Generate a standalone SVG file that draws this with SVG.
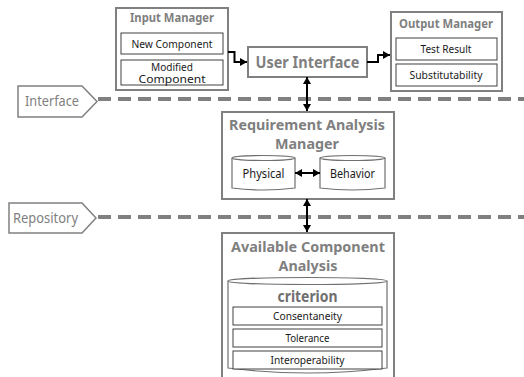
<svg xmlns="http://www.w3.org/2000/svg" width="524" height="377" viewBox="0 0 524 377">
<style>
.outer{fill:#fff;stroke:#808080;stroke-width:2}
.inner{fill:#fff;stroke:#404040;stroke-width:1}
.cyl{fill:#fff;stroke:#707070;stroke-width:1.2}
.title{font-family:"Noto Sans","Open Sans",sans-serif;font-weight:bold;fill:#7f7f7f;text-anchor:middle}
.lbl{font-family:"Noto Sans","Open Sans",sans-serif;fill:#1a1a1a;text-anchor:middle;font-size:11px}
.tag{font-family:"Noto Sans","Open Sans",sans-serif;fill:#7f7f7f;font-size:14px}
.dash{stroke:#808080;stroke-width:4;stroke-dasharray:13 7;fill:none}
.conn{stroke:#000;stroke-width:2;fill:none}
</style>
<defs>
<marker id="ah" markerWidth="9" markerHeight="9" refX="7" refY="4" orient="auto-start-reverse" markerUnits="userSpaceOnUse">
<path d="M0,0 L7,4 L0,8 Z" fill="#000"/>
</marker>
</defs>

<g id="interface-tag">
<path d="M18,86 H82 L97,101.5 L82,117 H18 Z" fill="#fff" stroke="#808080" stroke-width="1.5"/>
<text class="tag" x="25" y="106" textLength="54" lengthAdjust="spacingAndGlyphs">Interface</text>
</g>
<g id="repository-tag">
<path d="M9,203 H82 L96,218 L82,233 H9 Z" fill="#fff" stroke="#808080" stroke-width="1.5"/>
<text class="tag" x="13" y="223" textLength="65" lengthAdjust="spacingAndGlyphs">Repository</text>
</g>
<g id="dashes">
<line class="dash" x1="98" y1="99" x2="524" y2="99"/>
<line class="dash" x1="98" y1="217" x2="524" y2="217"/>
</g>

<g id="input-manager">
<rect class="outer" x="116" y="8" width="112" height="82"/>
<text class="title" x="172" y="22" font-size="12" textLength="84" lengthAdjust="spacingAndGlyphs">Input Manager</text>
<rect class="inner" x="121" y="33" width="102" height="21"/>
<text class="lbl" x="172" y="48" textLength="81" lengthAdjust="spacingAndGlyphs">New Component</text>
<rect class="inner" x="121" y="60" width="102" height="25"/>
<text class="lbl" x="172" y="70.5" style="font-size:10px" textLength="42" lengthAdjust="spacingAndGlyphs">Modified</text>
<text class="lbl" x="172" y="83" style="font-size:10px" textLength="67" lengthAdjust="spacingAndGlyphs">Component</text>
</g>

<g id="user-interface">
<rect class="outer" x="248" y="47" width="119" height="30"/>
<text class="title" x="307.5" y="68" font-size="16" textLength="104" lengthAdjust="spacingAndGlyphs">User Interface</text>
</g>

<g id="output-manager">
<rect class="outer" x="391" y="12" width="111" height="79"/>
<text class="title" x="446" y="28" font-size="12" textLength="94" lengthAdjust="spacingAndGlyphs">Output Manager</text>
<rect class="inner" x="396" y="38" width="101" height="22"/>
<text class="lbl" x="446" y="53" textLength="51" lengthAdjust="spacingAndGlyphs">Test Result</text>
<rect class="inner" x="396" y="64" width="101" height="22"/>
<text class="lbl" x="446" y="79" textLength="73" lengthAdjust="spacingAndGlyphs">Substitutability</text>
</g>

<g id="requirement-analysis-manager">
<rect class="outer" x="222" y="112" width="172" height="87"/>
<text class="title" x="307" y="130" font-size="14" textLength="156" lengthAdjust="spacingAndGlyphs">Requirement Analysis</text>
<text class="title" x="307" y="149" font-size="14" textLength="64" lengthAdjust="spacingAndGlyphs">Manager</text>
</g>
<g id="physical">
<path class="cyl" d="M232,158 V188 Q263.5,192 295,188 V158"/>
<ellipse class="cyl" cx="263.5" cy="158" rx="31.5" ry="2.5"/>
<text class="lbl" x="263.5" y="178" style="font-size:12px" textLength="42" lengthAdjust="spacingAndGlyphs">Physical</text>
</g>
<g id="behavior">
<path class="cyl" d="M320,158 V188 Q352.5,192 385,188 V158"/>
<ellipse class="cyl" cx="352.5" cy="158" rx="32.5" ry="2.5"/>
<text class="lbl" x="352.5" y="178" style="font-size:12px" textLength="45" lengthAdjust="spacingAndGlyphs">Behavior</text>
</g>

<g id="available-component-analysis">
<rect class="outer" x="222" y="233" width="172" height="150"/>
<text class="title" x="308" y="252" font-size="14" textLength="154" lengthAdjust="spacingAndGlyphs">Available Component</text>
<text class="title" x="308" y="271" font-size="14" textLength="59" lengthAdjust="spacingAndGlyphs">Analysis</text>
</g>
<g id="criterion">
<path class="cyl" d="M228,281 V368 Q307.5,378 387,368 V281" stroke-width="1.5"/>
<ellipse class="cyl" cx="307.5" cy="281" rx="79.5" ry="3.5" stroke-width="1.5"/>
<text class="title" x="307.5" y="302" font-size="16" style="fill:#6f6f6f" textLength="60" lengthAdjust="spacingAndGlyphs">criterion</text>
<rect class="inner" x="233" y="307" width="149" height="18"/>
<text class="lbl" x="307.5" y="320" textLength="69" lengthAdjust="spacingAndGlyphs">Consentaneity</text>
<rect class="inner" x="233" y="329" width="149" height="18"/>
<text class="lbl" x="307.5" y="342" textLength="44" lengthAdjust="spacingAndGlyphs">Tolerance</text>
<rect class="inner" x="233" y="351" width="149" height="18"/>
<text class="lbl" x="307.5" y="364" textLength="74" lengthAdjust="spacingAndGlyphs">Interoperability</text>
</g>

<g id="connectors">
<path class="conn" d="M228,52 H234.5 V62 H247" marker-end="url(#ah)"/>
<path class="conn" d="M367,62 H378 V55 H390" marker-end="url(#ah)"/>
<line class="conn" x1="307" y1="77" x2="307" y2="111" marker-start="url(#ah)" marker-end="url(#ah)"/>
<line class="conn" x1="295" y1="173" x2="320" y2="173" marker-start="url(#ah)" marker-end="url(#ah)"/>
<line class="conn" x1="307" y1="199" x2="307" y2="232" marker-start="url(#ah)" marker-end="url(#ah)"/>
</g>
</svg>
